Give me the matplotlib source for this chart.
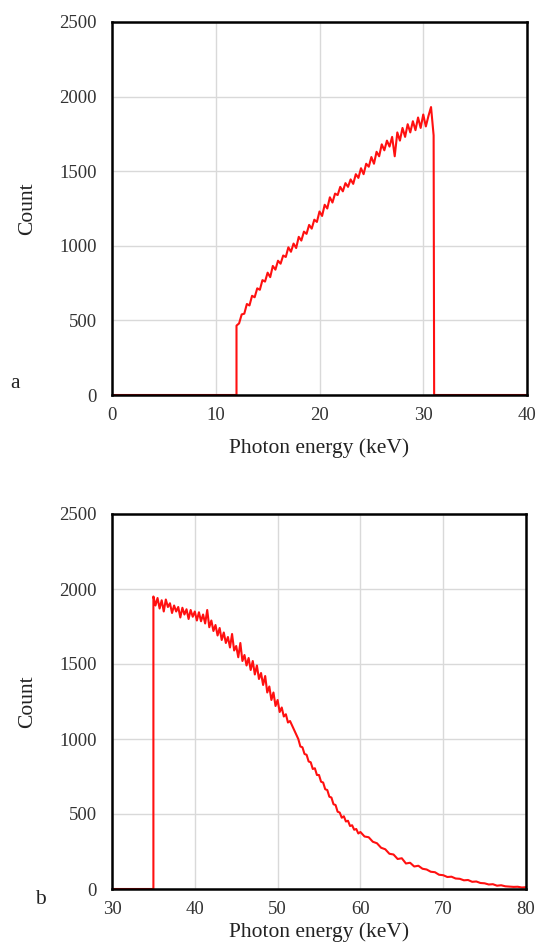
import numpy as np
import matplotlib
matplotlib.use("Agg")
import matplotlib.pyplot as plt

plt.rcParams['font.family'] = ['Liberation Serif', 'DejaVu Serif']

# ---------------- Panel a data ----------------
a_energy_step = 0.25
a_start, a_end = 12.0, 31.0
a_counts = [465, 480, 540, 545, 610, 600, 665, 655, 715, 705, 770, 760, 820, 790,
            865, 840, 900, 880, 935, 925, 990, 960, 1015, 985, 1060, 1035, 1095,
            1080, 1140, 1115, 1175, 1160, 1230, 1200, 1275, 1250, 1325, 1290, 1350,
            1340, 1395, 1365, 1420, 1395, 1445, 1415, 1480, 1455, 1520, 1480, 1550,
            1530, 1595, 1550, 1630, 1600, 1680, 1640, 1705, 1665, 1730, 1600, 1760,
            1705, 1790, 1730, 1815, 1760, 1835, 1775, 1860, 1790, 1880, 1800, 1870,
            1930, 1740]
a_xlim = (0, 40)
a_xticks = [0, 10, 20, 30, 40]

# ---------------- Panel b data ----------------
b_fine_start, b_fine_end = 35.0, 60.0       # 0.25 keV channels
b_fine_counts = [1950, 1890, 1940, 1870, 1925, 1850, 1930, 1880, 1905, 1840, 1890,
                 1850, 1880, 1810, 1875, 1830, 1865, 1800, 1860, 1815, 1850, 1790,
                 1845, 1785, 1830, 1770, 1860, 1745, 1790, 1720, 1760, 1690, 1740,
                 1660, 1710, 1640, 1680, 1610, 1700, 1590, 1620, 1545, 1640, 1520,
                 1560, 1490, 1540, 1460, 1520, 1430, 1490, 1400, 1440, 1360, 1420,
                 1310, 1350, 1260, 1310, 1220, 1260, 1180, 1210, 1150, 1165, 1110,
                 1120, 1090, 1060, 1030, 1000, 950, 945, 900, 895, 850, 845, 800,
                 805, 760, 760, 715, 710, 665, 660, 615, 610, 565, 560, 515, 510,
                 475, 485, 450, 455, 420, 425, 395, 400, 370, 380]
b_coarse_start, b_coarse_end = 60.5, 80.0   # 0.5 keV channels
b_coarse_counts = [350, 345, 315, 305, 275, 265, 235, 230, 200, 205, 170, 175, 150,
                   155, 135, 130, 115, 112, 95, 92, 80, 82, 70, 68, 58, 60, 48, 50,
                   40, 38, 30, 32, 22, 25, 18, 16, 14, 15, 10, 12]
b_xlim = (30, 80)
b_xticks = [30, 40, 50, 60, 70, 80]

y_ticks = [0, 500, 1000, 1500, 2000, 2500]
y_lim = (0, 2500)
x_label = "Photon energy (keV)"
y_label = "Count"

# Build series
a_x_channels = np.arange(a_start, a_end + 1e-9, a_energy_step)
a_x = np.concatenate([[a_xlim[0], a_start], a_x_channels, [a_end + 0.05, a_xlim[1]]])
a_y = np.concatenate([[0, 0], a_counts, [0, 0]])

b_x_fine = np.arange(b_fine_start, b_fine_end + 1e-9, 0.25)
b_x_coarse = np.arange(b_coarse_start, b_coarse_end + 1e-9, 0.5)
b_x = np.concatenate([[b_xlim[0], b_fine_start], b_x_fine, b_x_coarse])
b_y = np.concatenate([[0, 0], b_fine_counts, b_coarse_counts])

fig = plt.figure(figsize=(5.36, 9.44), dpi=100)
W, H = 536, 944

def make_axes(left, top, right, bottom):
    return fig.add_axes([left / W, 1 - bottom / H, (right - left) / W, (bottom - top) / H])

ax_a = make_axes(112, 22, 527, 395)
ax_b = make_axes(112, 514, 526, 889)

def style(ax, xlim, xticks, label_y):
    ax.set_xlim(*xlim)
    ax.set_ylim(*y_lim)
    ax.set_xticks(xticks)
    ax.set_yticks(y_ticks)
    ax.grid(True, color='#d9d9d9', linewidth=1.0)
    ax.set_axisbelow(True)
    for s in ax.spines.values():
        s.set_color('black')
        s.set_linewidth(1.8)
    ax.tick_params(length=0, labelsize=13.5, colors='#333333')
    ax.tick_params(axis='x', pad=9)
    ax.tick_params(axis='y', pad=11)
    ax.set_xlabel(x_label, fontsize=15.5, color='#222222')
    ax.set_ylabel(y_label, fontsize=15.5, color='#222222')
    ax.xaxis.set_label_coords(0.5, label_y)
    ax.yaxis.set_label_coords(-0.181, 0.5)

ax_a.plot(a_x, a_y, color='#ff1010', linewidth=1.5)
ax_b.plot(b_x, b_y, color='#ff1010', linewidth=1.5)
style(ax_a, a_xlim, a_xticks, -0.115)
style(ax_b, b_xlim, b_xticks, -0.09)

fig.text(15 / W, 1 - 383 / H, "a", fontsize=15.5, ha='center', va='center', color='#222222')
fig.text(40 / W, 1 - 900 / H, "b", fontsize=15.5, ha='center', va='center', color='#222222')

fig.savefig("out.png", dpi=100)
